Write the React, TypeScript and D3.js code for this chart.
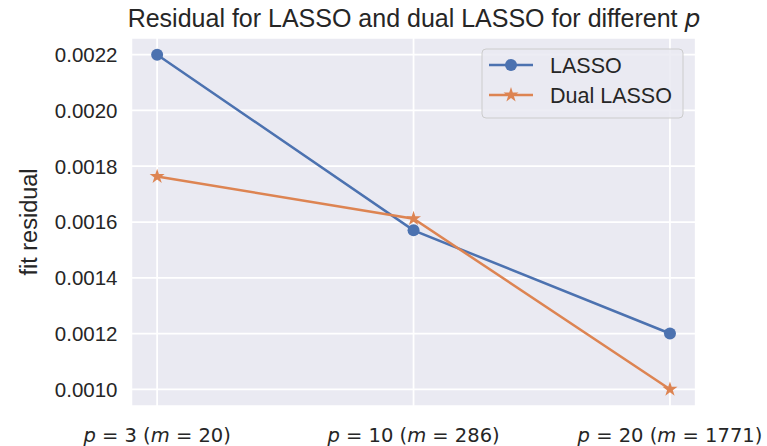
import React from 'react';
import * as d3 from 'd3';

const categories = ['p=3 (m=20)', 'p=10 (m=286)', 'p=20 (m=1771)'];
const tickParts = [
  { p: '3', m: '20' },
  { p: '10', m: '286' },
  { p: '20', m: '1771' },
];
const lasso = [0.0022, 0.00157, 0.0012];
const dualLasso = [0.001763, 0.001612, 0.001];
const yTicks = [0.001, 0.0012, 0.0014, 0.0016, 0.0018, 0.002, 0.0022];

const blue = '#4C72B0';
const orange = '#DD8452';
const font = '"Liberation Sans", Arial, sans-serif';

export default function App() {
  const width = 767;
  const height = 446;
  const left = 131.5;
  const right = 695.6;
  const top = 38;
  const bottom = 406;

  const x = d3.scaleLinear().domain([-0.1, categories.length - 1 + 0.1]).range([left, right]);
  const y = d3.scaleLinear().domain([0.00094, 0.00226]).range([bottom, top]);

  const line = d3.line<number>()
    .x((_, i) => x(i))
    .y(d => y(d));

  const star = d3.symbol().type(d3.symbolStar).size(70)();

  return (
    <svg width={width} height={height} style={{ position: 'absolute', left: 0, top: 0 }}>
      <rect x={0} y={0} width={width} height={height} fill="#ffffff" />
      <rect x={left} y={top} width={right - left} height={bottom - top} fill="#EAEAF2" stroke="#ffffff" strokeWidth={1.5} />
      {yTicks.map(t => (
        <line key={'gy' + t} x1={left} x2={right} y1={y(t)} y2={y(t)} stroke="#ffffff" strokeWidth={1.75} />
      ))}
      {categories.map((c, i) => (
        <line key={'gx' + c} x1={x(i)} x2={x(i)} y1={top} y2={bottom} stroke="#ffffff" strokeWidth={1.75} />
      ))}

      {yTicks.map(t => (
        <text key={'ty' + t} x={left - 14} y={y(t)} dy="0.36em" textAnchor="end"
          fontFamily={font} fontSize={20.5} fill="#262626">
          {d3.format('.4f')(t)}
        </text>
      ))}
      {tickParts.map((t, i) => (
        <text key={'tx' + i} x={x(i)} y={442} textAnchor="middle"
          fontFamily='"DejaVu Sans", sans-serif' fontSize={19.5} fill="#262626">
          <tspan fontStyle="italic">p</tspan>
          {' = ' + t.p + ' ('}
          <tspan fontStyle="italic">m</tspan>
          {' = ' + t.m + ')'}
        </text>
      ))}

      <text x={414} y={27} textAnchor="middle" fontFamily={font} fontSize={25} fill="#262626">
        Residual for LASSO and dual LASSO for different <tspan fontFamily='"DejaVu Sans", sans-serif' fontStyle="italic">p</tspan>
      </text>
      <text transform={`translate(37,${(top + bottom) / 2}) rotate(-90)`} textAnchor="middle"
        fontFamily={font} fontSize={23.5} fill="#262626">
        fit residual
      </text>

      <path d={line(lasso) || ''} fill="none" stroke={blue} strokeWidth={2.5} />
      <path d={line(dualLasso) || ''} fill="none" stroke={orange} strokeWidth={2.5} />
      {lasso.map((v, i) => (
        <circle key={'c' + i} cx={x(i)} cy={y(v)} r={6} fill={blue} />
      ))}
      {dualLasso.map((v, i) => (
        <path key={'s' + i} d={star || ''} transform={`translate(${x(i)},${y(v)})`} fill={orange} />
      ))}

      <g transform="translate(482,49)">
        <rect x={0} y={0} width={201} height={69} rx={4} fill="#EAEAF2" fillOpacity={0.85} stroke="#cccccc" strokeWidth={1} />
        <line x1={7} x2={51} y1={16} y2={16} stroke={blue} strokeWidth={2.5} />
        <circle cx={29} cy={16} r={6} fill={blue} />
        <text x={68} y={16} dy="0.36em" fontFamily={font} fontSize={21.5} fill="#262626">LASSO</text>
        <line x1={7} x2={51} y1={46} y2={46} stroke={orange} strokeWidth={2.5} />
        <path d={star || ''} transform="translate(29,46)" fill={orange} />
        <text x={68} y={46} dy="0.36em" fontFamily={font} fontSize={21.5} fill="#262626">Dual LASSO</text>
      </g>
    </svg>
  );
}
